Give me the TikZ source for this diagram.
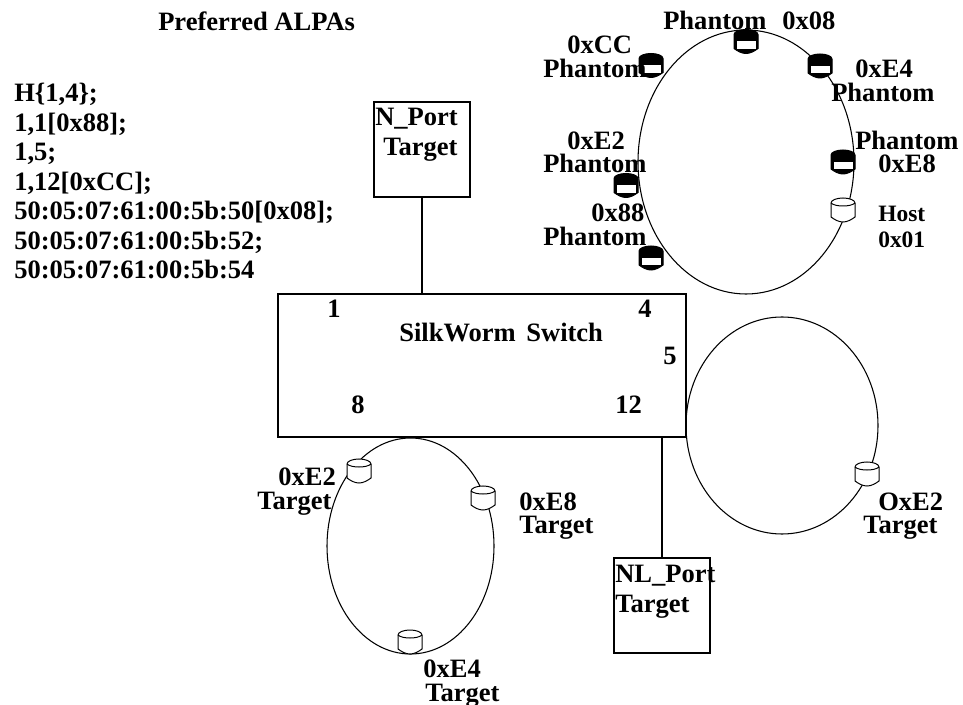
\documentclass[tikz,border=0pt]{standalone}
\usepackage{fontspec}
\setmainfont{Liberation Serif}
\usetikzlibrary{shapes.geometric}
\newcommand{\diskshape}[3]{%
  \coordinate (#1) at (#2);
  \draw[diskline,#3,shift={(#2)}] (-12,-7) .. controls (-12,-10) and (-6,-12) .. (0,-12)
     .. controls (6,-12) and (12,-10) .. (12,-7) -- (12,7) .. controls (8,10) and (4,12) .. (0,12)
     .. controls (-4,12) and (-8,10) .. (-12,7) -- cycle;
}
\newcommand{\whitedisk}[2]{%
  \diskshape{#1}{#2}{fill=white}
  \draw[diskline,shift={(#2)}] (-12,-7) .. controls (-8,-3) and (8,-3) .. (12,-7);
}
\newcommand{\blackdisk}[2]{%
  \diskshape{#1}{#2}{fill=black}
  \fill[white,shift={(#2)}] (-9.5,0) rectangle (9.5,7.5);
}
\tikzset{
  diskline/.style={draw=black,line width=0.75pt},
  ring/.style={draw=black,line width=0.8pt,ellipse,inner sep=0pt},
  box/.style={draw=black,line width=1.1pt,inner sep=0pt},
  wire/.style={draw=black,line width=1.1pt},
  lbl/.style={font=\bfseries\fontsize{19.9pt}{21.75pt}\selectfont,inner sep=0pt,anchor=base west,align=left},
  small/.style={lbl,font=\bfseries\fontsize{17.6pt}{20pt}\selectfont}
}
\begin{document}
\begin{tikzpicture}[x=0.75pt,y=-0.75pt]
\useasboundingbox (0,0) rectangle (963,705);
\fill[white] (0,0) rectangle (963,705);
% rings
\node[ring,minimum width=162pt,minimum height=198pt] (ringA) at (746,162) {};
\node[ring,minimum width=125.25pt,minimum height=162pt] (ringB) at (410.5,546) {};
\node[ring,minimum width=144pt,minimum height=162.75pt] (ringC) at (782,425.5) {};
% switch and ports
\node[box,fill=white,minimum width=306pt,minimum height=107.25pt] (switch) at (482,365.5) {};
\node[box,minimum width=72pt,minimum height=71.25pt] (nport) at (422,149.5) {};
\node[box,minimum width=72pt,minimum height=71.25pt] (nlport) at (662,605.5) {};
\draw[wire] (nport.south) -- (nport.south |- switch.north);
\draw[wire] (nlport.north |- switch.south) -- (nlport.north);
% disks
\blackdisk{pa}{746,41.5}
\blackdisk{pb}{820,66}
\blackdisk{pc}{651,65.5}
\blackdisk{pd}{843,162}
\blackdisk{pe}{626,185.5}
\blackdisk{pf}{651,258}
\whitedisk{host}{843,210}
\whitedisk{ta}{359,471}
\whitedisk{tb}{483,498}
\whitedisk{tc}{410,642}
\whitedisk{td}{867,474}
% text
\node[lbl] (t1) at (158,31) {Preferred ALPAs};
\node[lbl] (t2) at (14,102) {H\{1,4\};};
\node[lbl] (t3) at (14,131.5) {1,1[0x88];};
\node[lbl] (t4) at (14,161) {1,5;};
\node[lbl] (t5) at (14,190.5) {1,12[0xCC];};
\node[lbl] (t6) at (14,220) {50:05:07:61:00:5b:50[0x08];};
\node[lbl] (t7) at (14,250) {50:05:07:61:00:5b:52;};
\node[lbl] (t8) at (14,279) {50:05:07:61:00:5b:54};
\node[lbl] (n1) at (375,126) {N\_Port};
\node[lbl] (n2) at (383,156) {Target};
\node[lbl] (n3) at (615,582) {NL\_Port};
\node[lbl] (n4) at (615,612) {Target};
\node[lbl] (s1) at (327,318) {1};
\node[lbl] (s2) at (638,318) {4};
\node[lbl] (s3) at (663,365) {5};
\node[lbl] (s4) at (351,414) {8};
\node[lbl] (s5) at (615,414) {12};
\node[lbl] (s6) at (399,342) {SilkWorm\hspace{0.4em}Switch};
\node[lbl] (a1) at (663,30) {Phantom};
\node[lbl] (a2) at (782,30) {0x08};
\node[lbl] (a3) at (567,54) {0xCC};
\node[lbl] (a4) at (543,78) {Phantom};
\node[lbl] (a5) at (855,78) {0xE4};
\node[lbl] (a6) at (831,102) {Phantom};
\node[lbl] (a7) at (855,150) {Phantom};
\node[lbl] (a8) at (878,173) {0xE8};
\node[lbl] (a9) at (567,150) {0xE2};
\node[lbl] (a10) at (543,173) {Phantom};
\node[lbl] (a11) at (591,222) {0x88};
\node[lbl] (a12) at (543,246) {Phantom};
\node[small] (a13) at (878,222) {Host};
\node[small] (a14) at (878,248) {0x01};
\node[lbl] (b1) at (278,485) {0xE2};
\node[lbl] (b2) at (257,509) {Target};
\node[lbl] (b3) at (519,510) {0xE8};
\node[lbl] (b4) at (519,533) {Target};
\node[lbl] (b5) at (423,677) {0xE4};
\node[lbl] (b6) at (425,701) {Target};
\node[lbl] (c1) at (878,510) {OxE2};
\node[lbl] (c2) at (863,533) {Target};
\end{tikzpicture}
\end{document}
